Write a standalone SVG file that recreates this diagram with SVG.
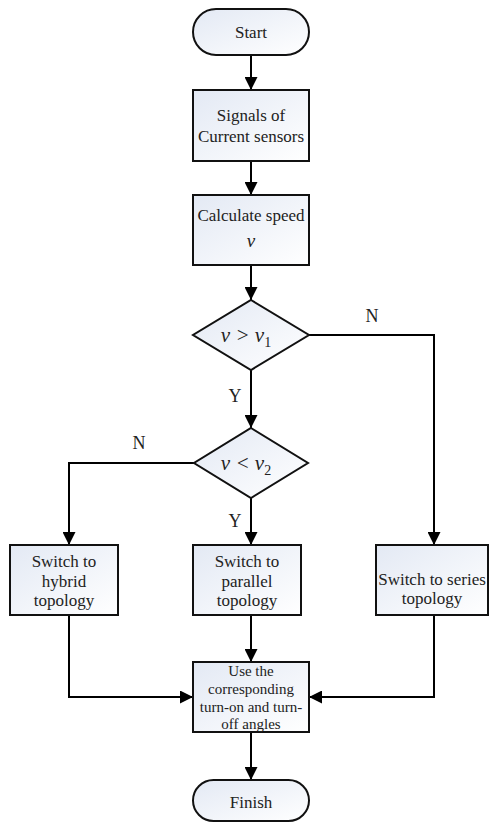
<svg xmlns="http://www.w3.org/2000/svg" width="490" height="823" viewBox="0 0 490 823">
<defs>
<linearGradient id="fill" x1="0" y1="0" x2="1" y2="1">
<stop offset="0" stop-color="#e3e9f4"/>
<stop offset="1" stop-color="#ffffff"/>
</linearGradient>
<marker id="arrow" markerUnits="userSpaceOnUse" markerWidth="13" markerHeight="13" refX="13" refY="6.5" orient="auto">
<path d="M0,0 L13,6.5 L0,13 z" fill="#000"/>
</marker>
<style>
.shape{fill:url(#fill);stroke:#111;stroke-width:2}
.line{fill:none;stroke:#000;stroke-width:2}
text{font-family:'Liberation Serif','Times New Roman','DejaVu Serif',serif;fill:#222}
.t{font-size:17px;text-anchor:middle}
.s{font-size:15px}
.lab{font-size:18px;text-anchor:middle}
.m{font-size:21px;font-style:italic;text-anchor:middle}
</style>
</defs>
<rect width="490" height="823" fill="#fff"/>
<g id="connectors">
<path class="line" d="M251,55 L251,90" marker-end="url(#arrow)"/>
<path class="line" d="M251,161 L251,195" marker-end="url(#arrow)"/>
<path class="line" d="M251,265 L251,300" marker-end="url(#arrow)"/>
<path class="line" d="M251,370 L251,428" marker-end="url(#arrow)"/>
<path class="line" d="M309,335 L434,335 L434,545" marker-end="url(#arrow)"/>
<path class="line" d="M194,463 L69,463 L69,545" marker-end="url(#arrow)"/>
<path class="line" d="M251,498 L251,545" marker-end="url(#arrow)"/>
<path class="line" d="M251,615 L251,662" marker-end="url(#arrow)"/>
<path class="line" d="M69,615 L69,697 L193,697" marker-end="url(#arrow)"/>
<path class="line" d="M434,615 L434,697 L309,697" marker-end="url(#arrow)"/>
<path class="line" d="M251,732 L251,780" marker-end="url(#arrow)"/>
<text class="lab" x="372" y="322" font-family="Liberation Serif, serif">N</text>
<text class="lab" x="235" y="402" font-family="Liberation Serif, serif">Y</text>
<text class="lab" x="139" y="449" font-family="Liberation Serif, serif">N</text>
<text class="lab" x="235" y="527" font-family="Liberation Serif, serif">Y</text>
</g>
<g id="start">
<rect class="shape" x="193" y="9" width="116" height="46" rx="23" ry="23"/>
<text class="t" x="251" y="38">Start</text>
</g>
<g id="signals">
<rect class="shape" x="193" y="90" width="116" height="71"/>
<text class="t" x="251" y="121">Signals of</text>
<text class="t" x="251" y="142">Current sensors</text>
</g>
<g id="calc">
<rect class="shape" x="193" y="195" width="116" height="70"/>
<text class="t" x="251" y="221">Calculate speed</text>
<text class="m" x="251" y="247" style="font-size:19px">v</text>
</g>
<g id="dec1">
<path class="shape" d="M251,300 L309,335 L251,370 L193,335 z"/>
<text class="m" x="246" y="342">v &gt; v<tspan font-style="normal" font-size="14" dy="5">1</tspan></text>
</g>
<g id="dec2">
<path class="shape" d="M251,428 L308,463 L251,498 L194,463 z"/>
<text class="m" x="246" y="470">v &lt; v<tspan font-style="normal" font-size="14" dy="5">2</tspan></text>
</g>
<g id="hybrid">
<rect class="shape" x="10" y="545" width="108" height="70"/>
<text class="t" x="64" y="567">Switch to</text>
<text class="t" x="64" y="587">hybrid</text>
<text class="t" x="64" y="606">topology</text>
</g>
<g id="parallel">
<rect class="shape" x="193" y="545" width="108" height="70"/>
<text class="t" x="247" y="567">Switch to</text>
<text class="t" x="247" y="587">parallel</text>
<text class="t" x="247" y="606">topology</text>
</g>
<g id="series">
<rect class="shape" x="376" y="545" width="112" height="70"/>
<text class="t" x="432" y="585">Switch to series</text>
<text class="t" x="432" y="604">topology</text>
</g>
<g id="use">
<rect class="shape" x="193" y="662" width="116" height="70"/>
<text class="t s" x="251" y="676">Use the</text>
<text class="t s" x="251" y="694">corresponding</text>
<text class="t s" x="251" y="712">turn-on and turn-</text>
<text class="t s" x="251" y="729">off angles</text>
</g>
<g id="finish">
<rect class="shape" x="193" y="780" width="116" height="41" rx="20.5" ry="20.5"/>
<text class="t" x="251" y="808">Finish</text>
</g>
</svg>
